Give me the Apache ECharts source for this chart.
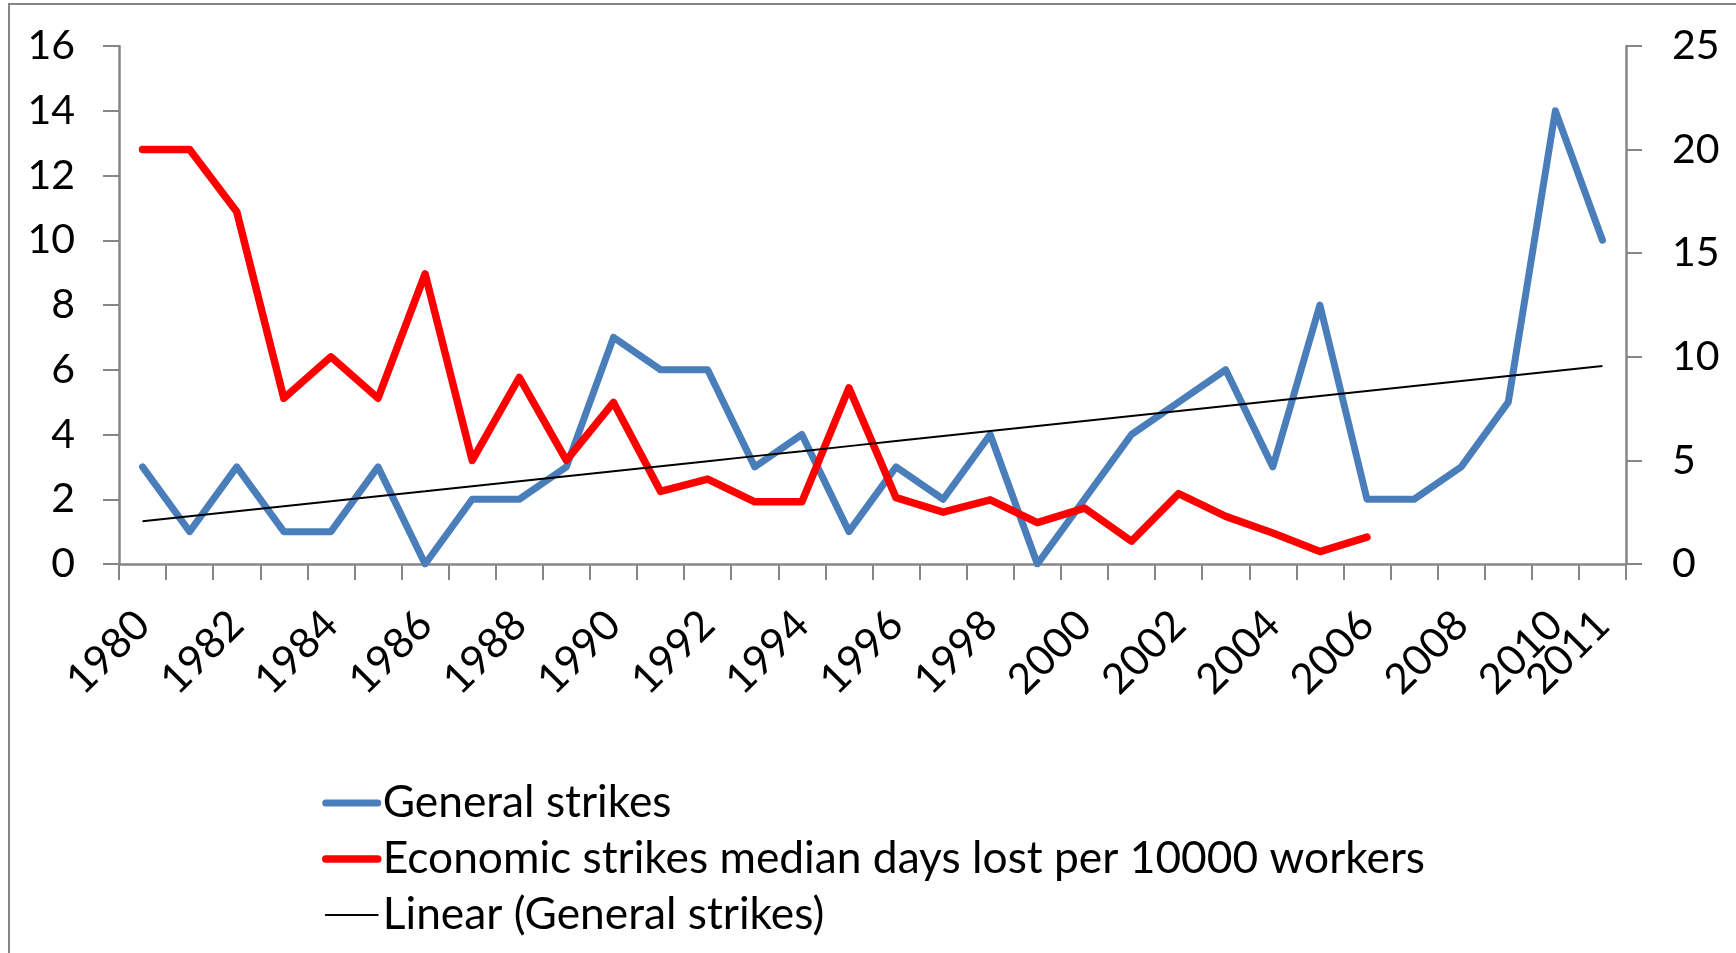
<!DOCTYPE html>
<html lang="en">
<head>
    <meta charset="UTF-8">
    <title>General and economic strikes</title>
    <script type="text/javascript" src="https://cdn.jsdelivr.net/npm/echarts@6/dist/echarts.min.js"></script>
    <style>
        html, body {margin: 0; padding: 0; background: #fff;}
    </style>
</head>
<body>
<div id="main" style="width: 1736px;height: 953px;"></div>
<script type="text/javascript">
    var years = ['1980', '1981', '1982', '1983', '1984', '1985', '1986', '1987', '1988', '1989',
        '1990', '1991', '1992', '1993', '1994', '1995', '1996', '1997', '1998', '1999',
        '2000', '2001', '2002', '2003', '2004', '2005', '2006', '2007', '2008', '2009',
        '2010', '2011'];

    // left axis
    var generalStrikes = [3, 1, 3, 1, 1, 3, 0, 2, 2, 3,
        7, 6, 6, 3, 4, 1, 3, 2, 4, 0,
        2, 4, 5, 6, 3, 8, 2, 2, 3, 5,
        14, 10];

    // right axis, no data after 2006
    var economicDays = [20, 20, 17, 8, 10, 8, 14, 5, 9, 5,
        7.8, 3.5, 4.1, 3, 3, 8.5, 3.2, 2.5, 3.1, 2,
        2.7, 1.1, 3.4, 2.3, 1.5, 0.6, 1.3, null, null, null,
        null, null];

    var leftTicks = {min: 0, max: 16, interval: 2};
    var rightTicks = {min: 0, max: 25, interval: 5};

    // least squares trend of the general strikes, like excel's "Linear" trendline
    function linearTrend(values) {
        var n = values.length, sx = 0, sy = 0, sxy = 0, sxx = 0;
        for (var i = 0; i < n; i++) {
            sx += i; sy += values[i]; sxy += i * values[i]; sxx += i * i;
        }
        var slope = (n * sxy - sx * sy) / (n * sxx - sx * sx);
        var icpt = (sy - slope * sx) / n;
        return values.map(function (v, i) {
            return +(icpt + slope * i).toFixed(3);
        });
    }

    var myChart = echarts.init(document.getElementById('main'));
    var fontName = 'Lato';
    var axisGray = '#868686';

    var xLabel = {
        rotate: 45,
        margin: 54,
        fontFamily: fontName,
        fontSize: 42,
        color: '#000',
        hideOverlap: false
    };
    var lastIdx = years.length - 1;

    var option = {
        animation: false,
        backgroundColor: '#fff',
        graphic: [{
            type: 'rect',
            shape: {x: 9, y: 4, width: 2000, height: 2000},
            style: {fill: 'none', stroke: axisGray, lineWidth: 2}
        }],
        grid: {left: 119, right: 110, top: 46, bottom: 389},
        legend: {
            orient: 'vertical',
            left: 322,
            top: 781,
            padding: 0,
            itemWidth: 52,
            itemHeight: 14,
            itemGap: 12,
            itemStyle: {opacity: 0},
            lineStyle: {width: 'inherit', cap: 'round'},
            textStyle: {fontFamily: fontName, fontSize: 44.3, color: '#000'},
            data: ['General strikes', 'Economic strikes median days lost per 10000 workers', 'Linear (General strikes)']
        },
        xAxis: [{
            type: 'category',
            data: years,
            boundaryGap: true,
            axisLine: {lineStyle: {color: axisGray, width: 2.5}},
            axisTick: {show: true, interval: 0, length: 16, lineStyle: {color: axisGray, width: 2}},
            axisLabel: Object.assign({}, xLabel, {
                interval: function (i) {
                    return i % 2 === 0;
                }
            }),
            splitLine: {show: false}
        }, {
            // second copy of the axis only to put the 2011 label over the 2010 one, as excel does
            type: 'category',
            data: years,
            boundaryGap: true,
            position: 'bottom',
            axisLine: {show: false},
            axisTick: {show: false},
            axisLabel: Object.assign({}, xLabel, {
                interval: function (i) {
                    return i === lastIdx;
                }
            }),
            splitLine: {show: false}
        }],
        yAxis: [{
            type: 'value',
            min: leftTicks.min,
            max: leftTicks.max,
            interval: leftTicks.interval,
            position: 'left',
            axisLine: {show: true, lineStyle: {color: axisGray, width: 2.5}},
            axisTick: {show: true, length: 16, lineStyle: {color: axisGray, width: 2}},
            axisLabel: {margin: 44, fontFamily: fontName, fontSize: 41, color: '#000'},
            splitLine: {show: false}
        }, {
            type: 'value',
            min: rightTicks.min,
            max: rightTicks.max,
            interval: rightTicks.interval,
            position: 'right',
            axisLine: {show: true, lineStyle: {color: axisGray, width: 2.5}},
            axisTick: {show: true, length: 16, lineStyle: {color: axisGray, width: 2}},
            axisLabel: {margin: 46, fontFamily: fontName, fontSize: 41, color: '#000'},
            splitLine: {show: false}
        }],
        series: [{
            name: 'General strikes',
            type: 'line',
            yAxisIndex: 0,
            symbol: 'none',
            color: '#4a7ebb',
            lineStyle: {color: '#4a7ebb', width: 7, cap: 'round', join: 'round'},
            data: generalStrikes
        }, {
            name: 'Economic strikes median days lost per 10000 workers',
            type: 'line',
            yAxisIndex: 1,
            symbol: 'none',
            color: '#ff0000',
            connectNulls: false,
            lineStyle: {color: '#ff0000', width: 7.5, cap: 'round', join: 'round'},
            data: economicDays
        }, {
            name: 'Linear (General strikes)',
            type: 'line',
            yAxisIndex: 0,
            symbol: 'none',
            color: '#000',
            lineStyle: {color: '#000', width: 2},
            data: linearTrend(generalStrikes)
        }]
    };
    myChart.setOption(option);
</script>
</body>
</html>
